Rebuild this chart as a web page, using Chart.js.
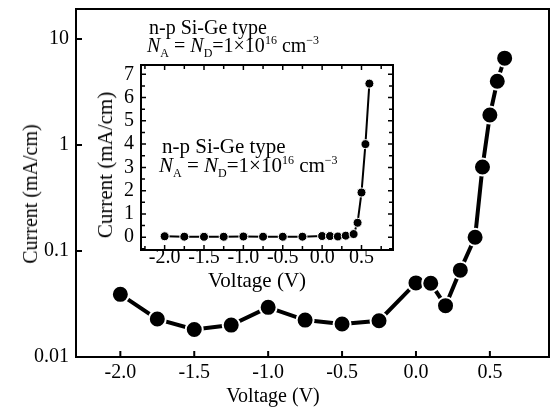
<!DOCTYPE html>
<html><head><meta charset="utf-8">
<script src="https://cdn.jsdelivr.net/npm/chart.js@4/dist/chart.umd.min.js"></script>
<style>
html,body{margin:0;padding:0;background:#fff;}
#wrap{position:relative;width:551px;height:412px;overflow:hidden;font-family:'Liberation Serif','Times New Roman',serif;color:#000;}
#main{position:absolute;left:0;top:0;}
#inset{position:absolute;left:84px;top:60px;}
.t{position:absolute;white-space:nowrap;font-size:20px;line-height:20px;}
.c{transform:translate(-50%,-50%);}
.r{transform:translate(-50%,-50%) rotate(-90deg);}
.sub{font-size:12px;position:relative;top:5px;line-height:0;}
.sup{font-size:12px;position:relative;top:-8px;line-height:0;}
</style></head>
<body><div id="wrap">
<canvas id="main" width="551" height="412"></canvas>
<canvas id="inset" width="312" height="240"></canvas>
<div class="t" style="left:149px;top:17px;">n-p Si-Ge type</div>
<div class="t" style="left:147px;top:35px;"><i>N</i><span class="sub">A</span> = <i>N</i><span class="sub">D</span>=1×10<span class="sup">16</span> cm<span class="sup">−3</span></div>
<div class="t" style="left:162px;top:136px;font-size:21px;">n-p Si-Ge type</div>
<div class="t" style="left:159px;top:155px;font-size:21px;"><i>N</i><span class="sub">A</span> = <i>N</i><span class="sub">D</span>=1×10<span class="sup">16</span> cm<span class="sup">−3</span></div>
<div class="t r" style="left:30px;top:194px;">Current (mA/cm)</div>
<div class="t c" style="left:273px;top:395px;">Voltage (V)</div>
<div class="t r" style="left:105px;top:165px;font-size:21px;">Current (mA/cm)</div>
<div class="t c" style="left:257px;top:280px;font-size:21px;">Voltage (V)</div>
</div>
<script>
const voltage = [-2.0,-1.75,-1.5,-1.25,-1.0,-0.75,-0.5,-0.25,0.0,0.1,0.2,0.3,0.4,0.45,0.5,0.55,0.6];
const current = [0.039,0.0228,0.0182,0.020,0.0294,0.0223,0.0205,0.022,0.050,0.0496,0.0305,0.066,0.135,0.62,1.92,4.0,6.6];
const mainXTicks = [-2.0,-1.5,-1.0,-0.5,0.0,0.5];
const mainYTicks = [0.01,0.1,1,10];
const insetXTicks = [-2.0,-1.5,-1.0,-0.5,0.0,0.5];
const insetXMinor = [-2.25,-1.75,-1.25,-0.75,-0.25,0.25,0.75];
const insetYTicks = [0,1,2,3,4,5,6,7];
const insetYMinor = [-0.5,0.5,1.5,2.5,3.5,4.5,5.5,6.5];

const FONT = "'Liberation Serif','Times New Roman',serif";

function framePlugin(cfg){
  return {
    id:'frame',
    beforeDatasetsDraw(chart){
      const ctx = chart.ctx, a = chart.chartArea, xs = chart.scales.x, ys = chart.scales.y;
      ctx.save();
      ctx.strokeStyle = '#000';
      ctx.lineWidth = cfg.tickWidth;
      ctx.beginPath();
      const addX = (vals, len) => vals.forEach(v => {
        const p = xs.getPixelForValue(v);
        ctx.moveTo(p, a.bottom); ctx.lineTo(p, a.bottom - len);
        if (cfg.allSides){ ctx.moveTo(p, a.top); ctx.lineTo(p, a.top + len); }
      });
      const addY = (vals, len) => vals.forEach(v => {
        const p = ys.getPixelForValue(v);
        ctx.moveTo(a.left, p); ctx.lineTo(a.left + len, p);
        if (cfg.allSides){ ctx.moveTo(a.right, p); ctx.lineTo(a.right - len, p); }
      });
      addX(cfg.xMajor, cfg.major); addY(cfg.yMajor, cfg.major);
      if (cfg.xMinor) addX(cfg.xMinor, cfg.minor);
      if (cfg.yMinor) addY(cfg.yMinor, cfg.minor);
      ctx.stroke();
      ctx.lineWidth = cfg.frameWidth;
      ctx.strokeRect(a.left, a.top, a.right - a.left, a.bottom - a.top);
      ctx.restore();
    }
  };
}

function pts(){ return voltage.map((v,i)=>({x:v,y:current[i]})); }
function fitX(h){ return s => { s.height = h; s.paddingLeft = 0; s.paddingRight = 0; }; }
function fitY(w){ return s => { s.width = w; s.paddingTop = 0; s.paddingBottom = 0; }; }

new Chart(document.getElementById('main'), {
  type:'line',
  data:{datasets:[{
    data:pts(), borderColor:'#000', borderWidth:4, tension:0,
    pointRadius:8.5, pointBackgroundColor:'#000', pointBorderColor:'#fff', pointBorderWidth:2,
    clip:false
  }]},
  options:{
    responsive:false, animation:false, devicePixelRatio:1,
    layout:{autoPadding:false, padding:{top:9,right:2,left:0,bottom:0}},
    plugins:{legend:{display:false},tooltip:{enabled:false}},
    scales:{
      x:{type:'linear',min:-2.3,max:0.9,
        afterBuildTicks(s){ s.ticks = mainXTicks.map(v=>({value:v})); },
        afterFit: fitX(55),
        grid:{display:false,drawTicks:false}, border:{display:false},
        ticks:{font:{family:FONT,size:20},color:'#000',padding:4,maxRotation:0,autoSkip:false,callback:v=>Number(v).toFixed(1)}},
      y:{type:'logarithmic',min:0.01,max:19.2,
        afterBuildTicks(s){ s.ticks = mainYTicks.map(v=>({value:v})); },
        afterFit: fitY(76),
        grid:{display:false,drawTicks:false}, border:{display:false},
        ticks:{font:{family:FONT,size:20},color:'#000',padding:7,autoSkip:false,callback:v=>String(v)}}
    }
  },
  plugins:[framePlugin({xMajor:mainXTicks,yMajor:mainYTicks,major:6,tickWidth:2,frameWidth:2,allSides:false})]
});

new Chart(document.getElementById('inset'), {
  type:'line',
  data:{datasets:[{
    data:pts(), borderColor:'#000', borderWidth:2, tension:0,
    pointRadius:4.5, pointBackgroundColor:'#000', pointBorderColor:'#fff', pointBorderWidth:1,
    clip:false
  }]},
  options:{
    responsive:false, animation:false, devicePixelRatio:1,
    layout:{autoPadding:false, padding:{top:5,right:3,left:0,bottom:0}},
    plugins:{legend:{display:false},tooltip:{enabled:false}},
    scales:{
      x:{type:'linear',min:-2.3,max:0.9,
        afterBuildTicks(s){ s.ticks = insetXTicks.map(v=>({value:v})); },
        afterFit: fitX(50),
        grid:{display:false,drawTicks:false}, border:{display:false},
        ticks:{font:{family:FONT,size:20},color:'#000',padding:-4,maxRotation:0,autoSkip:false,callback:v=>Number(v).toFixed(1)}},
      y:{type:'linear',min:-0.55,max:7.4,
        afterBuildTicks(s){ s.ticks = insetYTicks.map(v=>({value:v})); },
        afterFit: fitY(57),
        grid:{display:false,drawTicks:false}, border:{display:false},
        ticks:{font:{family:FONT,size:20},color:'#000',padding:7,autoSkip:false,callback:v=>String(v)}}
    }
  },
  plugins:[framePlugin({xMajor:insetXTicks,yMajor:insetYTicks,xMinor:insetXMinor,yMinor:insetYMinor,major:5,minor:4,tickWidth:1.5,frameWidth:2,allSides:true})]
});
</script>
</body></html>
